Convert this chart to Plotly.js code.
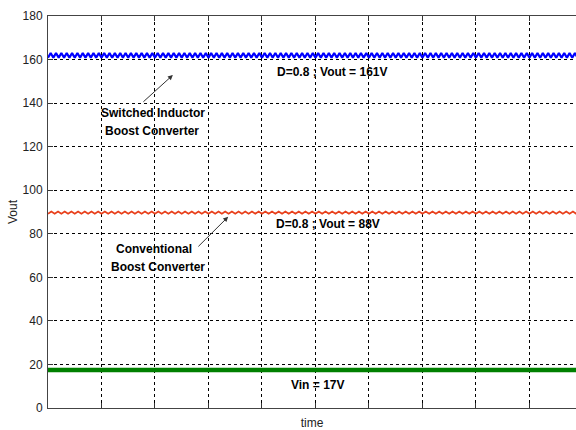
<!DOCTYPE html>
<html>
<head>
<meta charset="utf-8">
<script src="https://cdn.plot.ly/plotly-3.0.1.min.js"></script>
<style>
html,body{margin:0;padding:0;background:#fff;overflow:hidden;}
#chart{width:576px;height:430px;}
</style>
</head>
<body>
<div id="chart"></div>
<script>
// Switched inductor boost converter output ripple (peaks/troughs)
const switchedVout = [
160.8,163.0,160.8,163.0,160.8,163.0,160.8,163.0,160.8,163.0,160.8,163.0,160.8,163.0,160.8,163.0,160.8,163.0,160.8,163.0,
160.8,163.0,160.8,163.0,160.8,163.0,160.8,163.0,160.8,163.0,160.8,163.0,160.8,163.0,160.8,163.0,160.8,163.0,160.8,163.0,
160.8,163.0,160.8,163.0,160.8,163.0,160.8,163.0,160.8,163.0,160.8,163.0,160.8,163.0,160.8,163.0,160.8,163.0,160.8,163.0,
160.8,163.0,160.8,163.0,160.8,163.0,160.8,163.0,160.8,163.0,160.8,163.0,160.8,163.0,160.8,163.0,160.8,163.0,160.8,163.0,
160.8,163.0,160.8,163.0,160.8,163.0,160.8,163.0,160.8,163.0,160.8,163.0,160.8,163.0,160.8,163.0,160.8,163.0,160.8,163.0,
160.8,163.0,160.8,163.0,160.8,163.0,160.8,163.0,160.8,163.0,160.8,163.0,160.8,163.0,160.8,163.0,160.8,163.0,160.8,163.0,
160.8,163.0,160.8,163.0,160.8,163.0,160.8,163.0,160.8,163.0,160.8,163.0,160.8,163.0,160.8,163.0,160.8,163.0,160.8,163.0,
160.8,163.0,160.8,163.0,160.8,163.0,160.8,163.0,160.8,163.0,160.8,163.0,160.8,163.0,160.8,163.0,160.8,163.0,160.8,163.0,
160.8,163.0,160.8,163.0,160.8,163.0,160.8,163.0,160.8,163.0,160.8,163.0,160.8,163.0,160.8,163.0,160.8,163.0,160.8,163.0,
160.8,163.0,160.8,163.0,160.8,163.0,160.8,163.0,160.8,163.0,160.8,163.0,160.8,163.0,160.8,163.0,160.8,163.0,160.8,163.0
];
// Conventional boost converter output ripple
const conventionalVout = [
89.2,90.2,89.2,90.2,89.2,90.2,89.2,90.2,89.2,90.2,89.2,90.2,89.2,90.2,89.2,90.2,89.2,90.2,89.2,90.2,
89.2,90.2,89.2,90.2,89.2,90.2,89.2,90.2,89.2,90.2,89.2,90.2,89.2,90.2,89.2,90.2,89.2,90.2,89.2,90.2,
89.2,90.2,89.2,90.2,89.2,90.2,89.2,90.2,89.2,90.2,89.2,90.2,89.2,90.2,89.2,90.2,89.2,90.2,89.2,90.2,
89.2,90.2,89.2,90.2,89.2,90.2,89.2,90.2,89.2,90.2,89.2,90.2,89.2,90.2,89.2,90.2,89.2,90.2,89.2,90.2,
89.2,90.2,89.2,90.2,89.2,90.2,89.2,90.2,89.2,90.2,89.2,90.2,89.2,90.2,89.2,90.2,89.2,90.2,89.2,90.2,
89.2,90.2,89.2,90.2,89.2,90.2,89.2,90.2,89.2,90.2,89.2,90.2,89.2,90.2,89.2,90.2,89.2,90.2,89.2,90.2,
89.2,90.2,89.2,90.2,89.2,90.2,89.2,90.2,89.2,90.2,89.2,90.2,89.2,90.2,89.2,90.2,89.2,90.2,89.2,90.2,
89.2,90.2,89.2,90.2,89.2,90.2,89.2,90.2,89.2,90.2,89.2,90.2,89.2,90.2,89.2,90.2,89.2,90.2,89.2,90.2
];
const vinTime = [0, 10];
const vinValues = [17.5, 17.5];
const yTicks = [0, 20, 40, 60, 80, 100, 120, 140, 160, 180];
const xTicks = [0, 1, 2, 3, 4, 5, 6, 7, 8, 9];

const traces = [
  {type:'scatter', mode:'lines', y:switchedVout, x0:0, dx:0.05,
   line:{color:'#0000ff', width:2.2}, hoverinfo:'skip'},
  {type:'scatter', mode:'lines', y:conventionalVout, x0:0, dx:0.0625,
   line:{color:'#e8401c', width:1.8}, hoverinfo:'skip'},
  {type:'scatter', mode:'lines', x:vinTime, y:vinValues,
   line:{color:'#008000', width:4.5}, hoverinfo:'skip'}
];

const annFont = {family:'"Liberation Sans", Arial, sans-serif', size:12, color:'#000'};
function txt(t, x, y){ return {text:'<b>'+t+'</b>', x:x, y:y, xref:'x', yref:'y', showarrow:false, font:annFont, xanchor:'center', yanchor:'middle'}; }
function arrow(hx, hy, tx, ty){ return {text:'', x:hx, y:hy, ax:tx, ay:ty, xref:'x', yref:'y', axref:'x', ayref:'y', showarrow:true, arrowhead:2, arrowsize:1, arrowwidth:1, arrowcolor:'#333', standoff:0, startstandoff:0}; }

const layout = {
  width:576, height:430,
  margin:{l:48, r:0, t:16, b:22},
  paper_bgcolor:'#fff', plot_bgcolor:'#fff',
  showlegend:false,
  font:{family:'"Liberation Sans", Arial, sans-serif', size:12, color:'#222'},
  xaxis:{
    range:[0, 9.87], tickvals:xTicks, showticklabels:false,
    ticks:'inside', ticklen:5, tickcolor:'#333',
    showline:true, linecolor:'#444', linewidth:1, mirror:'ticks',
    showgrid:true, gridcolor:'#000', gridwidth:1, griddash:'3px,3px',
    zeroline:false, automargin:false,
    title:{text:'time', font:{size:12, color:'#222'}, standoff:10}
  },
  yaxis:{
    range:[0, 180], tickvals:yTicks, ticktext:yTicks.map(String),
    ticks:'inside', ticklen:5, tickcolor:'#333',
    showline:true, linecolor:'#444', linewidth:1, mirror:false,
    showgrid:true, gridcolor:'#000', gridwidth:1, griddash:'3px,3px',
    zeroline:false, automargin:false, ticklabelstandoff:2,
    tickfont:{size:12, color:'#222'},
    title:{text:'Vout', font:{size:12, color:'#222'}, standoff:2}
  },
  annotations:[
    txt('D=0.8 ; Vout = 161V', 5.31, 154.4),
    txt('D=0.8 ; Vout = 88V', 5.23, 84.5),
    txt('Vin = 17V', 5.03, 10.6),
    txt('Switched Inductor', 1.97, 135.4),
    txt('Boost Converter', 1.94, 127.3),
    txt('Conventional', 1.985, 73.0),
    txt('Boost Converter', 2.06, 64.9),
    arrow(2.334, 152.9, 1.755, 140.0),
    arrow(3.368, 87.8, 2.783, 73.5)
  ]
};

Plotly.newPlot('chart', traces, layout, {staticPlot:true, displayModeBar:false});
</script>
</body>
</html>
